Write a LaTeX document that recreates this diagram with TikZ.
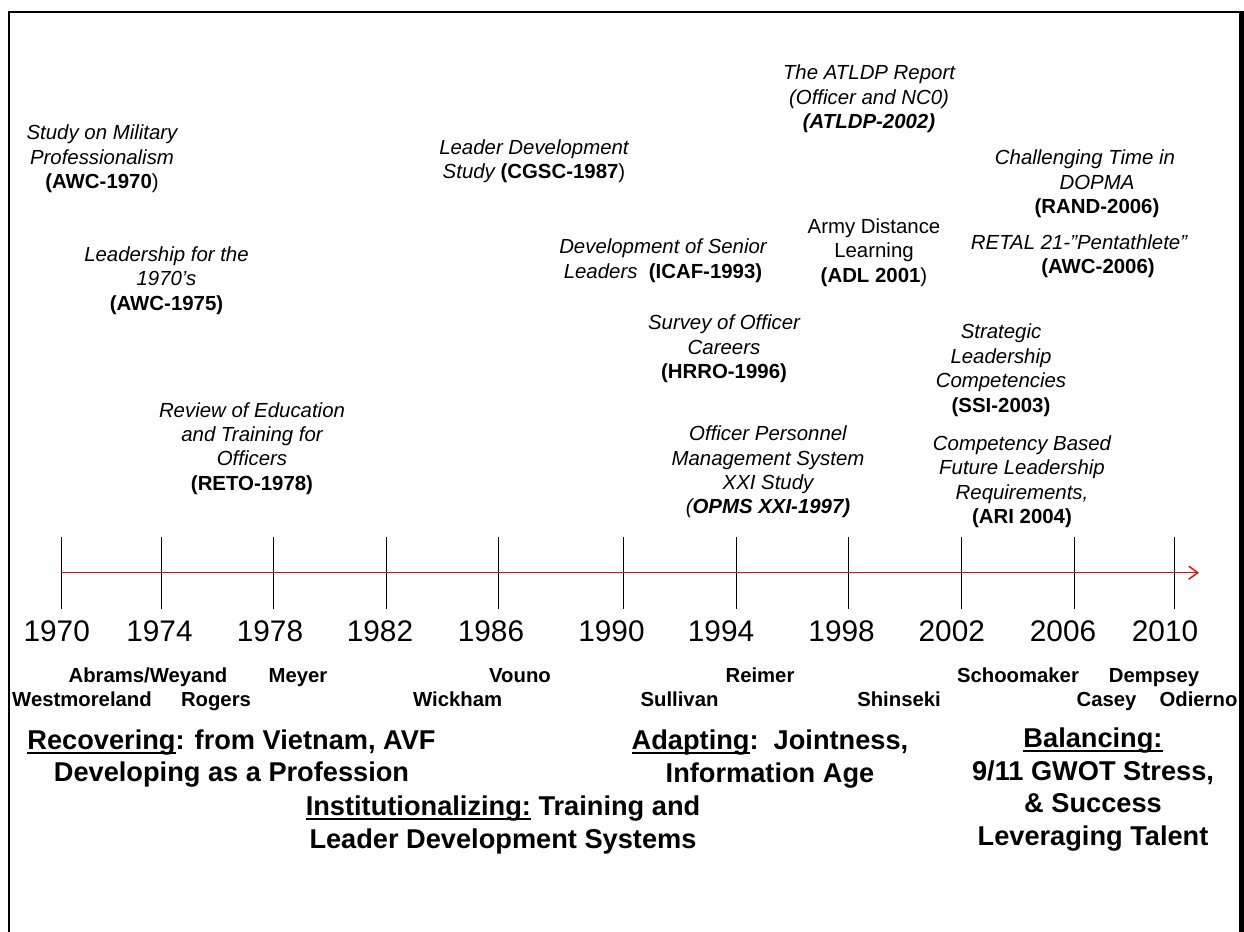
\documentclass[tikz,border=0pt]{standalone}
\usepackage{fontspec}
\setmainfont{Liberation Sans}
\usetikzlibrary{arrows.meta}
\newcommand\myul[1]{\setbox0=\hbox{#1}\rlap{\rule[-4.6pt]{\wd0}{2pt}}\box0\relax}
\begin{document}
\begin{tikzpicture}[x=1pt,y=-1pt,
  study/.style={align=center,inner sep=0pt,anchor=base,font=\fontsize{20.4}{24.4}\selectfont\itshape},
  plainstudy/.style={study,font=\fontsize{20.4}{24.4}\selectfont\upshape},
  year/.style={inner sep=0pt,anchor=base,font=\fontsize{29.8}{30}\selectfont},
  chief/.style={inner sep=0pt,anchor=base,font=\fontsize{20.3}{22}\selectfont\bfseries},
  era/.style={align=center,inner sep=0pt,anchor=base,font=\fontsize{27.2}{32.5}\selectfont\bfseries},
  tick/.style={line width=1pt,black},
  axis/.style={red,line width=1.4pt,-{Straight Barb[length=9pt,width=13pt,line width=1.4pt]}},
  frame/.style={line width=2pt,black}]

\fill[white] (0,0) rectangle (1244,931);
\useasboundingbox (0,0) rectangle (1244,931);

% frame (open at the bottom of the picture)
\draw[frame] (9,960) -- (9,12.5) -- (1239,12.5);
\draw[line width=5pt] (1241.5,11.5) -- (1241.5,960);

% time axis
\coordinate (axS) at (61,572.7);
\coordinate (axE) at (1199,572.7);
\foreach \yr/\x in {1970/61,1974/161,1978/273.7,1982/386,1986/498.5,1990/623.7,1994/736.5,1998/848.7,2002/961.3,2006/1074,2010/1174}{
  \coordinate (tt\yr) at (\x,537);
  \coordinate (tb\yr) at (\x,609);
  \draw[tick] (tt\yr) -- (tb\yr);
}
\draw[axis] (axS) -- (axE);

% years
\node[year] (y1970) at (56.7,641.7) {1970};
\node[year] (y1974) at (159.5,641.7) {1974};
\node[year] (y1978) at (270,641.7) {1978};
\node[year] (y1982) at (380,641.7) {1982};
\node[year] (y1986) at (491,641.7) {1986};
\node[year] (y1990) at (611.5,641.7) {1990};
\node[year] (y1994) at (721,641.7) {1994};
\node[year] (y1998) at (841.6,641.7) {1998};
\node[year] (y2002) at (951.8,641.7) {2002};
\node[year] (y2006) at (1063,641.7) {2006};
\node[year] (y2010) at (1165,641.7) {2010};

% chiefs of staff
\node[chief] (abrams) at (148,682.5) {Abrams/Weyand};
\node[chief] (meyer) at (298,682.5) {Meyer};
\node[chief] (vouno) at (520,682.5) {Vouno};
\node[chief] (reimer) at (760,682.5) {Reimer};
\node[chief] (schoomaker) at (1018,682.5) {Schoomaker};
\node[chief] (dempsey) at (1154,682.5) {Dempsey};
\node[chief] (westmoreland) at (82,706.7) {Westmoreland};
\node[chief] (rogers) at (216,706.7) {Rogers};
\node[chief] (wickham) at (457.6,706.7) {Wickham};
\node[chief] (sullivan) at (679.5,706.7) {Sullivan};
\node[chief] (shinseki) at (899,706.7) {Shinseki};
\node[chief] (casey) at (1106.5,706.7) {Casey};
\node[chief] (odierno) at (1198.5,706.7) {Odierno};

% studies (anchor = baseline of the last line)
\node[study] (awc70) at (102,188.7) {Study on Military\\Professionalism\\{\upshape\bfseries(AWC-1970}{\upshape)}};
\node[study] (awc75) at (166.5,310.3) {Leadership for the\\1970’s\\{\upshape\bfseries(AWC-1975)}};
\node[study] (reto) at (252,490.3) {Review of Education\\and Training for\\Officers\\{\upshape\bfseries(RETO-1978)}};
\node[study] (cgsc) at (534,178.7) {Leader Development\\Study {\upshape\bfseries(CGSC-1987}{\upshape)}};
\node[study] (icaf) at (663,278) {Development of Senior\\Leaders\ \ {\upshape\bfseries(ICAF-1993)}};
\node[study] (hrro) at (724,378.5) {Survey of Officer\\Careers\\{\upshape\bfseries(HRRO-1996)}};
\node[study] (opms) at (768,513.8) {Officer Personnel\\Management System\\XXI Study\\({\bfseries OPMS XXI-1997)}};
\node[study] (atldp) at (869,128.8) {The ATLDP Report\\(Officer and NC0)\\{\bfseries(ATLDP-2002)}};
\node[plainstudy] (adl) at (874,282.2) {Army Distance\\Learning\\{\bfseries(ADL 2001}{)}};
\node[study] (rand) at (1097,213.5) {Challenging Time in\hspace*{24pt}\\DOPMA\\{\upshape\bfseries(RAND-2006)}};
\node[study] (awc06) at (1098,273.7) {RETAL 21-”Pentathlete”\hspace*{38pt}\\{\upshape\bfseries(AWC-2006)}};
\node[study] (ssi) at (1001,412) {Strategic\\Leadership\\Competencies\\{\upshape\bfseries(SSI-2003)}};
\node[study] (ari) at (1022,523.6) {Competency Based\\Future Leadership\\Requirements,\\{\upshape\bfseries(ARI 2004)}};

% eras (anchor = baseline of the last line)
\node[era] (recover) at (231.5,781.7) {\myul{Recovering}: from Vietnam, AVF\\Developing as a Profession};
\node[era] (instit) at (503,848.3) {\myul{Institutionalizing:} Training and\\Leader Development Systems};
\node[era] (adapt) at (770,782.3) {\myul{Adapting}:\ \ Jointness,\\Information Age};
\node[era] (balance) at (1093,845) {\myul{Balancing:}\\9/11 GWOT Stress,\\\& Success\\Leveraging Talent};
\end{tikzpicture}
\end{document}
